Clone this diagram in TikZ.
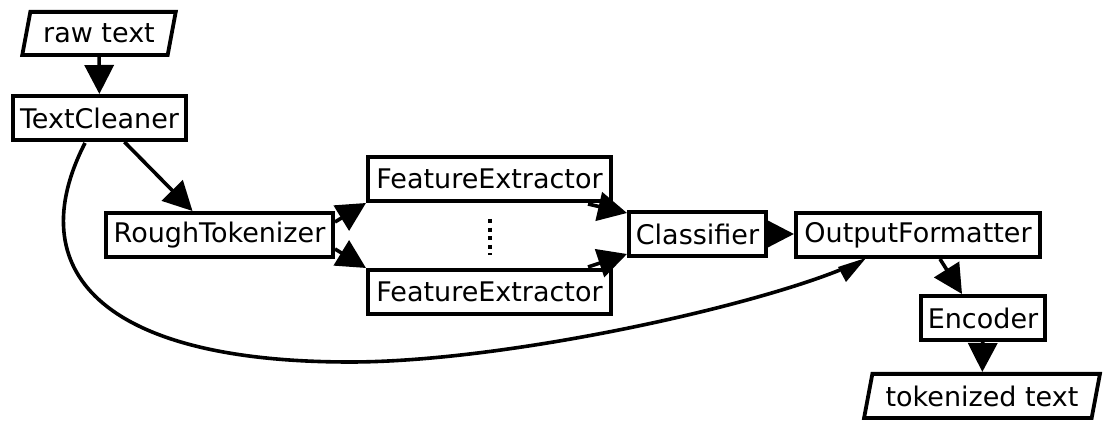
\documentclass[tikz,border=0pt]{standalone}
\usepackage{fontspec}
\setmainfont{DejaVu Sans}
\usetikzlibrary{arrows.meta,shapes.geometric,calc}
\begin{document}
\begin{tikzpicture}[x=0.5pt,y=-0.5pt,
  lbl/.style={font=\fontsize{13.5pt}{16pt}\selectfont, draw, line width=1.9pt,
    inner xsep=2pt, inner ysep=0pt, minimum height=22.1pt},
  block/.style={lbl, rectangle},
  io/.style={lbl, trapezium, trapezium left angle=70, trapezium right angle=110,
    trapezium stretches=true},
  edge/.style={line width=1.8pt, -{Triangle[length=14.5pt,width=14.5pt]}},
]
\useasboundingbox (0,0) rectangle (1103,421);

% nodes
\node[io, minimum width=77.1pt, minimum height=21.6pt] (raw) at (99,33.5) {raw text};
\node[block, minimum width=86.6pt] (tc) at (99.5,118) {TextCleaner};
\node[block, minimum width=113.6pt] (rt) at (219.5,235) {RoughTokenizer};
\node[block, minimum width=121.6pt] (fe1) at (489.5,179) {FeatureExtractor};
\node[block, minimum width=121.6pt] (fe2) at (489.5,292) {FeatureExtractor};
\node[block, minimum width=68.6pt] (cl) at (697.5,234) {Classifier};
\node[block, minimum width=122.1pt] (of) at (918,235) {OutputFormatter};
\node[block, minimum width=62.1pt] (en) at (983,318) {Encoder};
\node[io, minimum width=118.1pt] (tok) at (982,396) {tokenized text};

% vertical ellipsis between the two extractors
\coordinate (dtop) at ($(fe1.south)+(0,16)$);
\coordinate (dbot) at ($(fe2.north)+(0,-13)$);
\draw[line width=2pt, dash pattern=on 2pt off 2.3pt] (dtop) -- (dbot);

% connectors
\draw[edge] (raw) -- (tc);
\draw[edge] ($(tc.south)+(25,0)$) -- ($(rt.north)+(-27,0)$);
\draw[edge] ($(rt.north east)+(0,11)$) -- (fe1.south west);
\draw[edge] ($(rt.south east)+(0,-10)$) -- (fe2.north west);
\draw[edge] ($(fe1.south east)+(-25,1)$) -- ($(cl.north west)+(0,3)$);
\draw[edge] ($(fe2.north east)+(-25,-1)$) -- ($(cl.south west)+(0,-4)$);
\draw[edge] (cl.east) -- (of.west |- cl.east);
\draw[edge] ($(of.south)+(22,0)$) -- ($(en.north)+(-21,0)$);
\draw[edge] (en) -- (tok);

% long bypass from TextCleaner to OutputFormatter
\coordinate (cs) at ($(tc.south)+(-14.5,1)$);
\coordinate (cb) at (350,362);
\coordinate (ce) at ($(of.south west)+(46,11)$);
\draw[line width=1.8pt] (cs) .. controls +(-65,127) and +(-250,0) .. (cb)
  .. controls +(150,0) and +(-100,40) .. (ce);
\fill ($(of.south west)+(44,8)$) -- ($(of.south west)+(72,-1)$)
  -- ($(of.south west)+(52,23)$) -- cycle;
\end{tikzpicture}
\end{document}
